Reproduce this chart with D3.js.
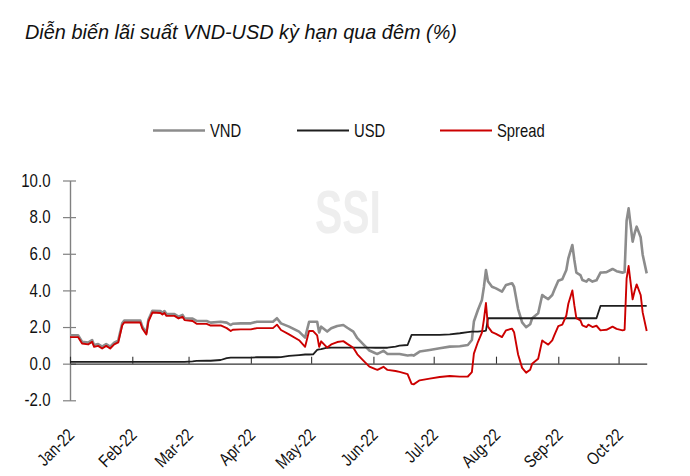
<!DOCTYPE html>
<html>
<head>
<meta charset="utf-8">
<script src="https://cdn.jsdelivr.net/npm/d3@7"></script>
<style>
  html, body { margin: 0; padding: 0; background: #fff; }
  svg { display: block; }
  text { font-family: "Liberation Sans", Arial, sans-serif; }
</style>
</head>
<body>
<svg id="chart" width="690" height="476"></svg>
<script>
const title = "Diễn biến lãi suất VND-USD kỳ hạn qua đêm (%)";
const seriesNames = ["VND", "USD", "Spread"];
const yTicks = [-2, 0, 2, 4, 6, 8, 10];
const monthTicks = ["2022-01-01","2022-02-01","2022-03-01","2022-04-01","2022-05-01","2022-06-01","2022-07-01","2022-08-01","2022-09-01","2022-10-01"];
const xDomain = ["2022-01-01", "2022-10-15"];

const dates = ["2022-01-01","2022-01-05","2022-01-07","2022-01-10","2022-01-12","2022-01-13","2022-01-15","2022-01-17","2022-01-19","2022-01-21","2022-01-23","2022-01-25","2022-01-27","2022-01-28","2022-02-05","2022-02-06","2022-02-08","2022-02-09","2022-02-11","2022-02-15","2022-02-16","2022-02-17","2022-02-18","2022-02-22","2022-02-24","2022-02-26","2022-02-27","2022-03-03","2022-03-05","2022-03-10","2022-03-12","2022-03-17","2022-03-20","2022-03-22","2022-03-23","2022-03-27","2022-04-01","2022-04-04","2022-04-12","2022-04-14","2022-04-16","2022-04-20","2022-04-25","2022-04-28","2022-04-30","2022-05-02","2022-05-04","2022-05-05","2022-05-06","2022-05-09","2022-05-11","2022-05-14","2022-05-17","2022-05-19","2022-05-22","2022-05-24","2022-05-27","2022-05-30","2022-06-02","2022-06-03","2022-06-06","2022-06-08","2022-06-12","2022-06-14","2022-06-18","2022-06-20","2022-06-21","2022-06-24","2022-06-29","2022-07-04","2022-07-09","2022-07-14","2022-07-18","2022-07-20","2022-07-21","2022-07-23","2022-07-25","2022-07-26","2022-07-27","2022-07-28","2022-07-30","2022-08-01","2022-08-04","2022-08-06","2022-08-09","2022-08-10","2022-08-12","2022-08-14","2022-08-16","2022-08-18","2022-08-19","2022-08-22","2022-08-24","2022-08-25","2022-08-27","2022-08-29","2022-08-30","2022-09-01","2022-09-03","2022-09-05","2022-09-06","2022-09-08","2022-09-09","2022-09-10","2022-09-12","2022-09-13","2022-09-15","2022-09-16","2022-09-18","2022-09-20","2022-09-22","2022-09-23","2022-09-25","2022-09-28","2022-09-30","2022-10-03","2022-10-04","2022-10-05","2022-10-06","2022-10-08","2022-10-09","2022-10-10","2022-10-12","2022-10-13","2022-10-15"];

const vnd = [1.55,1.55,1.20,1.15,1.29,1.02,1.07,0.93,1.07,0.93,1.15,1.26,2.20,2.35,2.35,2.02,1.69,2.39,2.89,2.87,2.78,2.87,2.71,2.71,2.57,2.66,2.48,
  2.46,2.33,2.33,2.24,2.29,2.24,2.11,2.18,2.20,2.20,2.29,2.29,2.48,2.20,2.02,1.75,1.42,2.29,2.29,2.29,1.70,2.02,1.75,1.93,2.06,2.11,1.96,1.75,1.39,1.05,0.72,
  0.57,0.53,0.70,0.53,0.53,0.53,0.45,0.47,0.44,0.66,0.75,0.84,0.93,0.95,1.02,1.29,2.30,2.93,3.48,4.20,5.11,4.50,4.20,
  4.11,3.93,4.30,4.39,4.20,2.98,2.25,1.99,2.15,2.48,2.75,3.75,3.66,3.52,3.75,4.02,
  4.53,4.61,5.11,5.75,6.48,5.66,4.97,4.84,4.57,4.48,4.61,4.48,4.55,4.97,4.98,5.00,5.17,5.05,
  4.97,5.00,7.80,8.48,6.66,7.12,7.48,6.90,5.95,4.93];

const usd = [0.10,0.10,0.10,0.10,0.10,0.10,0.10,0.10,0.10,0.10,0.10,0.10,0.10,0.10,0.10,0.10,0.10,0.10,0.10,0.10,0.10,0.10,0.10,0.10,0.10,0.10,0.10,
  0.13,0.15,0.16,0.16,0.20,0.30,0.33,0.33,0.33,0.33,0.35,0.35,0.35,0.36,0.42,0.47,0.50,0.50,0.51,0.75,0.78,0.80,0.87,0.88,0.88,0.88,0.88,0.88,0.88,0.88,0.88,
  0.87,0.87,0.87,0.87,0.93,0.98,1.02,1.57,1.57,1.57,1.57,1.57,1.60,1.66,1.72,1.75,1.75,1.75,1.78,1.78,1.80,2.48,2.48,
  2.48,2.48,2.48,2.48,2.48,2.48,2.48,2.48,2.48,2.48,2.48,2.48,2.48,2.48,2.48,2.48,
  2.48,2.48,2.48,2.48,2.48,2.48,2.48,2.48,2.48,2.48,2.48,2.48,2.48,3.15,3.15,3.15,3.15,3.15,
  3.15,3.15,3.15,3.15,3.15,3.15,3.15,3.15,3.15,3.15];

const spread = [1.45,1.45,1.10,1.05,1.19,0.92,0.97,0.83,0.97,0.83,1.05,1.16,2.10,2.25,2.25,1.92,1.59,2.29,2.79,2.77,2.68,2.77,2.61,2.61,2.47,2.56,2.38,
  2.33,2.18,2.17,2.08,2.09,1.94,1.78,1.85,1.87,1.87,1.94,1.94,2.13,1.84,1.60,1.28,0.92,1.79,1.78,1.54,0.92,1.22,0.88,1.05,1.18,1.23,1.08,0.87,0.51,0.17,-0.16,
  -0.30,-0.34,-0.17,-0.34,-0.40,-0.45,-0.57,-1.10,-1.13,-0.91,-0.82,-0.73,-0.67,-0.71,-0.70,-0.46,0.55,1.18,1.70,2.42,3.31,2.02,1.72,
  1.63,1.45,1.82,1.91,1.72,0.50,-0.23,-0.49,-0.33,0.00,0.27,1.27,1.18,1.04,1.27,1.54,
  2.05,2.13,2.63,3.27,4.00,3.18,2.49,2.36,2.09,2.00,2.13,2.00,2.07,1.82,1.83,1.85,2.02,1.90,
  1.82,1.85,4.65,5.33,3.51,3.97,4.33,3.75,2.80,1.78];

const colors = { VND: "#8c8c8c", USD: "#1e1e1e", Spread: "#cc0000" };
const widths = { VND: 2.6, USD: 1.8, Spread: 1.9 };
const NARROW = 0.82;

const parse = d3.timeParse("%Y-%m-%d");
const svg = d3.select("#chart");

const x = d3.scaleTime().domain(xDomain.map(parse)).range([70, 646.7]);
const y = d3.scaleLinear().domain([-2, 10]).range([400.3, 180.5]);

// watermark
svg.append("text")
  .attr("x", 315).attr("y", 233)
  .attr("font-weight", "bold").attr("font-size", 62)
  .attr("textLength", 66).attr("lengthAdjust", "spacingAndGlyphs")
  .attr("fill", "#eeeeee").text("SSI");

// title
svg.append("text")
  .attr("transform", "translate(25,39) scale(0.97,1)")
  .attr("font-size", 20.5).attr("font-style", "italic").attr("fill", "#111")
  .text(title);

// legend
const legendX = [153, 297, 440];
seriesNames.forEach((name, i) => {
  const g = svg.append("g").attr("transform", `translate(${legendX[i]},130.5)`);
  g.append("line").attr("x1", 0).attr("x2", 52).attr("y1", 0).attr("y2", 0)
    .attr("stroke", colors[name]).attr("stroke-width", name === "VND" ? 2.6 : 2);
  g.append("text").attr("transform", `translate(57,6.5) scale(0.8,1)`)
    .attr("font-size", 18.5).attr("fill", "#111").text(name);
});

// y axis
const yAxis = d3.axisLeft(y).tickValues(yTicks).tickFormat(d3.format(".1f"))
  .tickSizeInner(7).tickSizeOuter(0).tickPadding(12);
const gy = svg.append("g").attr("transform", "translate(70,0)").call(yAxis);
gy.select(".domain").attr("stroke", "#808080").attr("stroke-width", 1.4);
gy.selectAll(".tick line").attr("x1", 6).attr("x2", -7).attr("stroke", "#808080").attr("stroke-width", 1.2);
gy.selectAll(".tick text")
  .attr("font-size", 17.5).attr("fill", "#111").attr("font-family", "'Liberation Sans', Arial, sans-serif")
  .attr("x", -19.5 / 0.86).attr("transform", "scale(0.86,1)")
  .text(d => d3.format(".1f")(d).replace("−", "-"));

// x axis at y=0
const monthDates = monthTicks.map(parse);
const xAxis = d3.axisBottom(x).tickValues(monthDates).tickSizeInner(-7).tickSizeOuter(0).tickFormat("");
const gx = svg.append("g").attr("transform", `translate(0,${y(0)})`).call(xAxis);
gx.select(".domain").attr("stroke", "#333").attr("stroke-width", 1.2);
gx.selectAll(".tick line").attr("stroke", "#333").attr("stroke-width", 1.1);

// x labels below plot
const xLabAxis = d3.axisBottom(x).tickValues(monthDates).tickSize(0).tickFormat(d3.timeFormat("%b-%y"));
const gxl = svg.append("g").attr("transform", "translate(0,436)").call(xLabAxis);
gxl.select(".domain").remove();
gxl.selectAll(".tick text")
  .attr("font-size", 17.5).attr("fill", "#111").attr("font-family", "'Liberation Sans', Arial, sans-serif")
  .attr("text-anchor", "end").attr("x", 0).attr("y", 0).attr("dy", 0)
  .attr("transform", `translate(5,0) rotate(-45) scale(${NARROW},1)`);

// lines
const rows = dates.map((d, i) => ({ date: parse(d), VND: vnd[i], USD: usd[i], Spread: spread[i] }));
seriesNames.forEach(name => {
  const line = d3.line().x(d => x(d.date)).y(d => y(d[name]));
  svg.append("path").datum(rows)
    .attr("fill", "none").attr("stroke", colors[name]).attr("stroke-width", widths[name])
    .attr("stroke-linejoin", "round").attr("d", line);
});
</script>
</body>
</html>
